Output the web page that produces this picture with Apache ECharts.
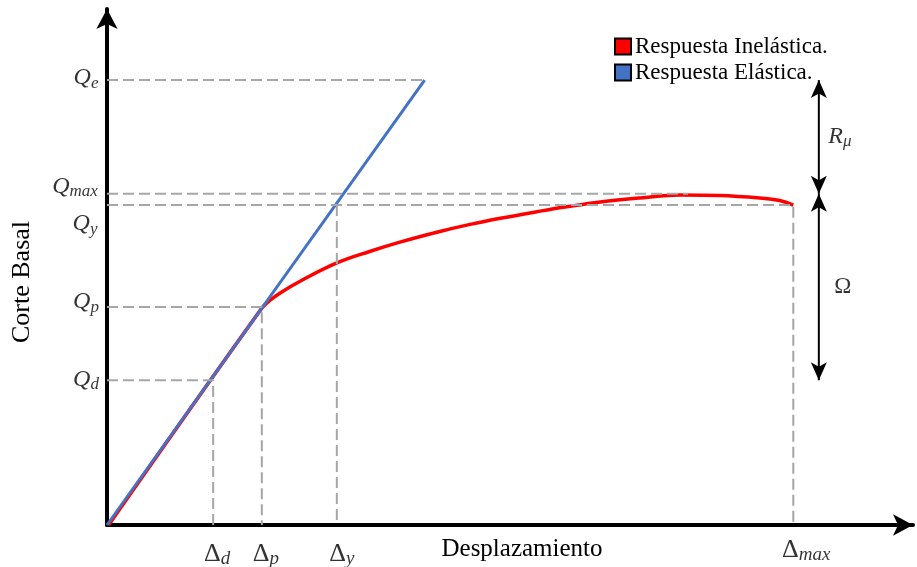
<!DOCTYPE html>
<html>
<head>
<meta charset="utf-8">
<script src="https://cdn.jsdelivr.net/npm/echarts@6/dist/echarts.min.js"></script>
<style>html,body{margin:0;padding:0;background:#fff;}#c{width:917px;height:567px;}</style>
</head>
<body>
<div id="c"></div>
<script>
// ---- data (arbitrary units: displacement, base shear) ----
const qNames = ['e', 'max', 'y', 'p', 'd'];
const qValues = [87.6, 65.2, 63.0, 42.9, 28.5];
const dNames = ['d', 'p', 'y', 'max'];
const dValues = [13.3, 19.4, 28.8, 86.0];
const elasticX = [0, 39.8];
const elasticY = [0, 87.6];
const inelasticX = [0.2, 19.4, 20.4, 21.7, 24.2, 28.8, 33.0, 36.7, 41.7, 45.5, 49.3, 54.3, 57.4, 61.8, 66.8, 71.8, 76.8, 81.8, 84.3, 86.0];
const inelasticY = [0, 42.7, 44.2, 45.7, 48.0, 51.6, 53.9, 55.7, 57.8, 59.2, 60.4, 61.8, 62.6, 63.6, 64.4, 65.0, 64.9, 64.4, 63.9, 63.0];
const qMaxDashEnd = 72.8;
const ratioArrowX = 89.2;
const xMax = 101.0;
const yMax = 101.6;
const seriesNames = ['Respuesta Inelástica.', 'Respuesta Elástica.'];
const axisNames = ['Desplazamiento', 'Corte Basal'];

const Q = {};
qNames.forEach((n, i) => Q[n] = qValues[i]);
const D = {};
dNames.forEach((n, i) => D[n] = dValues[i]);

const SERIF = 'Liberation Serif';
const rich = {
  m: {fontFamily: SERIF, fontStyle: 'italic', fontSize: 24, color: '#000', lineHeight: 27},
  o: {fontFamily: SERIF, fontSize: 23, color: '#000', lineHeight: 27},
  u: {fontFamily: SERIF, fontSize: 26, color: '#000', lineHeight: 28},
  s: {fontFamily: SERIF, fontStyle: 'italic', fontSize: 17, color: '#000', lineHeight: 17, verticalAlign: 'bottom'},
  t: {fontFamily: SERIF, fontStyle: 'italic', fontSize: 19, color: '#000', lineHeight: 18, verticalAlign: 'bottom'}
};

const dashStyle = {color: '#a6a6a6', width: 2, type: [11, 5]};
function dashed(points) {
  return {type: 'line', data: points, symbol: 'none', silent: true, lineStyle: dashStyle, z: 3, animation: false};
}

// label annotations
const qOffsets = {e: [-21, -2], max: [-32, -7], y: [-22, 19], p: [-21, -5], d: [-21, -1]};
const dOffsets = {d: [4, 29], p: [4, 29], y: [5, 29], max: [13, 25]};
const annData = [];
qNames.forEach(n => annData.push({value: [0, Q[n]], label: {formatter: '{m|Q}{s|' + n + '}', offset: qOffsets[n]}}));
dNames.forEach(n => annData.push({value: [D[n], 0], label: {formatter: '{u|Δ}{t|' + n + '}', offset: dOffsets[n]}}));
annData.push({value: [ratioArrowX, (Q.e + Q.max) / 2], label: {formatter: '{m|R}{s|μ}', offset: [21, 0]}});
annData.push({value: [ratioArrowX, (Q.max + Q.d) / 2], label: {formatter: '{o|Ω}', offset: [24, 0]}});

const arrowSym = [12, 18];
function dblArrow(top, bottom) {
  return {
    type: 'line', silent: true, animation: false, z: 4,
    lineStyle: {color: '#000', width: 2},
    itemStyle: {color: '#000'},
    symbol: 'arrow', symbolSize: arrowSym, showSymbol: true,
    data: [
      {value: [ratioArrowX, top], symbolRotate: 0},
      {value: [ratioArrowX, bottom], symbolRotate: 180}
    ]
  };
}

const chart = echarts.init(document.getElementById('c'), null, {renderer: 'canvas'});
chart.setOption({
  animation: false,
  backgroundColor: '#fff',
  grid: {left: 107, right: 4, top: 9, bottom: 42, show: false, outerBoundsMode: 'none', containLabel: false},
  legend: {
    orient: 'vertical', left: 614, top: 35, padding: 0,
    data: seriesNames.map(n => ({name: n, icon: 'rect'})),
    itemWidth: 16, itemHeight: 16, itemGap: 3,
    itemStyle: {borderColor: '#000', borderWidth: 2},
    textStyle: {fontFamily: SERIF, fontSize: 23, color: '#000', padding: [0, 0, 0, -1]},
    selectedMode: false
  },
  xAxis: {
    type: 'value', min: 0, max: xMax,
    name: axisNames[0], nameLocation: 'middle', nameGap: 12,
    nameTextStyle: {fontFamily: SERIF, fontSize: 25, color: '#000', padding: [0, 0, 0, 24]},
    axisLine: {show: true, lineStyle: {color: '#000', width: 4}, symbol: ['none', 'arrow'], symbolSize: [16, 20]},
    axisTick: {show: false}, axisLabel: {show: false}, splitLine: {show: false}
  },
  yAxis: {
    type: 'value', min: 0, max: yMax,
    name: axisNames[1], nameLocation: 'middle', nameGap: 72, nameRotate: 90,
    nameTextStyle: {fontFamily: SERIF, fontSize: 26, color: '#000', padding: [0, 30, 0, 0]},
    axisLine: {show: true, lineStyle: {color: '#000', width: 4}, symbol: ['none', 'arrow'], symbolSize: [16, 20]},
    axisTick: {show: false}, axisLabel: {show: false}, splitLine: {show: false}
  },
  series: [
    {
      name: seriesNames[0], type: 'line', smooth: 0.4, symbol: 'none', z: 2,
      data: inelasticX.map((x, i) => [x, inelasticY[i]]),
      lineStyle: {color: '#ff0000', width: 3.5}, itemStyle: {color: '#ff0000'}
    },
    {
      name: seriesNames[1], type: 'line', symbol: 'none', z: 3,
      data: elasticX.map((x, i) => [x, elasticY[i]]),
      lineStyle: {color: '#4472c4', width: 3}, itemStyle: {color: '#4472c4'}
    },
    dashed([[0, Q.e], [elasticX[1], Q.e]]),
    dashed([[0, Q.max], [qMaxDashEnd, Q.max]]),
    dashed([[0, Q.y], [D.max, Q.y], [D.max, 0]]),
    dashed([[0, Q.p], [D.p, Q.p], [D.p, 0]]),
    dashed([[0, Q.d], [D.d, Q.d], [D.d, 0]]),
    dashed([[D.y, Q.y], [D.y, 0]]),
    dblArrow(Q.e, Q.max),
    dblArrow(Q.max, Q.d),
    {
      type: 'scatter', silent: true, animation: false, symbolSize: 0, z: 5,
      data: annData,
      label: {show: true, position: 'inside', align: 'center', verticalAlign: 'middle', rich: rich}
    }
  ]
});
</script>
</body>
</html>
